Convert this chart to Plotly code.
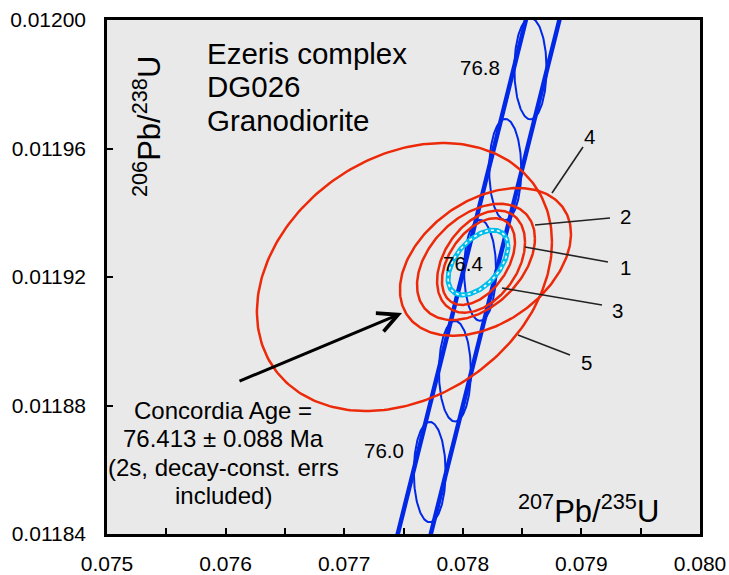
import numpy as np
import plotly.graph_objects as go

# ---------------- data ----------------
# decay constants (1/yr) and 1-sigma relative uncertainties (Jaffey et al. 1971)
LAMBDA_238 = 1.55125e-10
LAMBDA_235 = 9.8485e-10
REL_ERR_238 = 0.000535
REL_ERR_235 = 0.00068

concordia_age_range = [75.6, 77.2]           # Ma, span of the drawn concordia band
marker_ages = [76.0, 76.2, 76.4, 76.6, 76.8]  # Ma, age markers on the concordia
marker_labels = ["76.0", "76.4", "76.8"]

# analysed spots: 2-sigma error ellipses
# centre 207Pb/235U, centre 206Pb/238U, half-extent in x, half-extent in y, error correlation
spot_ids = ["1", "2", "3", "4", "5"]
spot_x = [0.078154, 0.078111, 0.078132, 0.078191, 0.077508]
spot_y = [0.0119248, 0.0119247, 0.0119248, 0.0119247, 0.0119200]
spot_ex = [0.000371, 0.000497, 0.000308, 0.000721, 0.001244]
spot_ey = [0.0000159, 0.0000181, 0.0000135, 0.0000230, 0.0000417]
spot_rho = [0.38, 0.40, 0.45, 0.38, 0.26]

# concordia-age ellipse
conc_age_text = ["Concordia Age =", "76.413 \u00b1 0.088 Ma", "(2s, decay-const. errs", "included)"]
conc_x, conc_y = 0.078128, 0.0119245
conc_ex, conc_ey, conc_rho = 0.000253, 0.0000101, 0.5

title_lines = ["Ezeris complex", "DG026", "Granodiorite"]

x_ticks = [0.075, 0.076, 0.077, 0.078, 0.079, 0.080]
y_ticks = [0.01184, 0.01188, 0.01192, 0.01196, 0.01200]

# ---------------- helpers ----------------
K95 = np.sqrt(5.991)  # 95% 2-D confidence scale


def conc_point(t_ma):
    t = np.asarray(t_ma) * 1e6
    return np.exp(LAMBDA_235 * t) - 1, np.exp(LAMBDA_238 * t) - 1


def conc_sigma(t_ma):
    t = np.asarray(t_ma) * 1e6
    sx = t * np.exp(LAMBDA_235 * t) * LAMBDA_235 * REL_ERR_235
    sy = t * np.exp(LAMBDA_238 * t) * LAMBDA_238 * REL_ERR_238
    return sx, sy


def corr_ellipse(cx, cy, ex, ey, rho, n=240):
    th = np.linspace(0, 2 * np.pi, n)
    x = cx + ex * np.cos(th)
    y = cy + ey * (rho * np.cos(th) + np.sqrt(1 - rho ** 2) * np.sin(th))
    return x, y


RED = "rgb(236,42,10)"
BLUE = "rgb(0,40,230)"
CYAN = "rgb(0,190,235)"

fig = go.Figure()

# concordia band (2-sigma envelope of decay-constant errors)
tt = np.linspace(concordia_age_range[0], concordia_age_range[1], 600)
cx_, cy_ = conc_point(tt)
sx_, sy_ = conc_sigma(tt)
tx = LAMBDA_235 * np.exp(LAMBDA_235 * tt * 1e6)
ty = LAMBDA_238 * np.exp(LAMBDA_238 * tt * 1e6)
nx, ny = -ty, tx
hn = np.sqrt(sx_ ** 2 * nx ** 2 + sy_ ** 2 * ny ** 2)
ox = 2 * sx_ ** 2 * nx / hn
oy = 2 * sy_ ** 2 * ny / hn
for sgn in (1, -1):
    fig.add_trace(go.Scatter(x=cx_ + sgn * ox, y=cy_ + sgn * oy, mode="lines",
                             line=dict(color=BLUE, width=4.5), hoverinfo="skip", showlegend=False))

# age-marker ellipses (95% conf., decay-constant errors)
for a in marker_ages:
    mx, my = conc_point(a)
    sx, sy = conc_sigma(a)
    th = np.linspace(0, 2 * np.pi, 200)
    fig.add_trace(go.Scatter(x=mx + K95 * sx * np.cos(th), y=my + K95 * sy * np.sin(th), mode="lines",
                             line=dict(color=BLUE, width=2), hoverinfo="skip", showlegend=False))

# data ellipses
for i in range(len(spot_ids)):
    ex_, ey_ = corr_ellipse(spot_x[i], spot_y[i], spot_ex[i], spot_ey[i], spot_rho[i])
    fig.add_trace(go.Scatter(x=ex_, y=ey_, mode="lines", line=dict(color=RED, width=2.5),
                             hoverinfo="skip", showlegend=False))

# concordia-age ellipse (dotted cyan)
ccx, ccy = corr_ellipse(conc_x, conc_y, conc_ex, conc_ey, conc_rho)
fig.add_trace(go.Scatter(x=ccx, y=ccy, mode="lines", line=dict(color=CYAN, width=5),
                         hoverinfo="skip", showlegend=False))
fig.add_trace(go.Scatter(x=ccx, y=ccy, mode="lines", line=dict(color="white", width=1.6, dash="dot"),
                         hoverinfo="skip", showlegend=False))

# ---------------- layout ----------------
L, R, T, B = 107, 700, 20, 534
W, H = 729, 575


def P(xp, yp):
    return (xp - L) / (R - L), (B - yp) / (B - T)


FONT = "Liberation Sans, Arial, sans-serif"
ann = []


def text(xp, yp, s, size, xanchor="center", yanchor="middle", angle=0):
    px, py = P(xp, yp)
    ann.append(dict(x=px, y=py, xref="paper", yref="paper", text=s, showarrow=False,
                    xanchor=xanchor, yanchor=yanchor, textangle=angle,
                    font=dict(family=FONT, size=size, color="black")))


# sample title
for s, yp in zip(title_lines, [53, 86.5, 120.5]):
    text(205, yp, s, 29.5, xanchor="left")

# concordia age statement
for s, yp in zip(conc_age_text, [410, 438, 467, 495]):
    text(223, yp, s, 24)

# age marker labels
for s, (xp, yp) in zip(marker_labels, [(384, 450), (463, 263), (480, 67)]):
    text(xp, yp, s, 20.5)

# spot labels with leader lines
label_pos = {"4": (589, 136), "2": (625, 216), "1": (625, 267), "3": (617, 310), "5": (586, 362)}
leaders = {"4": ((583, 147), (552, 193)), "2": ((610, 218), (535, 225)), "1": ((608, 262), (525, 247)),
           "3": ((602, 305), (502, 288)), "5": ((570, 355), (518, 335))}
shapes = []
for k in spot_ids:
    text(label_pos[k][0], label_pos[k][1], k, 20.5)
    (x0, y0), (x1, y1) = leaders[k]
    a0, b0 = P(x0, y0)
    a1, b1 = P(x1, y1)
    shapes.append(dict(type="line", xref="paper", yref="paper", x0=a0, y0=b0, x1=a1, y1=b1,
                       line=dict(color="#222222", width=1.6)))

# axis titles inside the plot
text(147, 127, "<sup>206</sup>Pb/<sup>238</sup>U", 31, angle=-90)
text(588, 509, "<sup>207</sup>Pb/<sup>235</sup>U", 31)

# arrow
hx, hy = P(402, 313)
ann.append(dict(x=hx, y=hy, xref="paper", yref="paper", ax=235 - 402, ay=383 - 313,
                showarrow=True, arrowhead=5, arrowsize=1.3, arrowwidth=3, arrowcolor="black", text=" "))

fig.update_layout(
    width=W, height=H,
    margin=dict(l=L, r=W - R, t=T, b=H - B, pad=0, autoexpand=False),
    paper_bgcolor="white", plot_bgcolor="#e9e9e9",
    annotations=ann, shapes=shapes, showlegend=False,
    font=dict(family=FONT, size=21, color="black"),
)
fig.update_xaxes(range=[0.075, 0.080], tickvals=x_ticks, ticktext=[f"{v:.3f}" for v in x_ticks],
                 ticks="inside", ticklen=6, tickwidth=2, tickcolor="black",
                 minor=dict(ticks="inside", ticklen=6, tickwidth=2, tickcolor="black",
                            tickvals=[0.0755, 0.0765, 0.0775, 0.0785, 0.0795]),
                 showline=True, linewidth=2.5, linecolor="black", mirror=True, automargin=False,
                 showgrid=False, zeroline=False, tickfont=dict(size=21), ticklabelstandoff=9)
fig.update_yaxes(range=[0.01184, 0.01200], tickvals=y_ticks, ticktext=[f"{v:.5f}" for v in y_ticks],
                 ticks="inside", ticklen=6, tickwidth=2, tickcolor="black",
                 showline=True, linewidth=2.5, linecolor="black", mirror=True, automargin=False,
                 showgrid=False, zeroline=False, tickfont=dict(size=21), ticklabelstandoff=14)

fig.write_html("out.html")
